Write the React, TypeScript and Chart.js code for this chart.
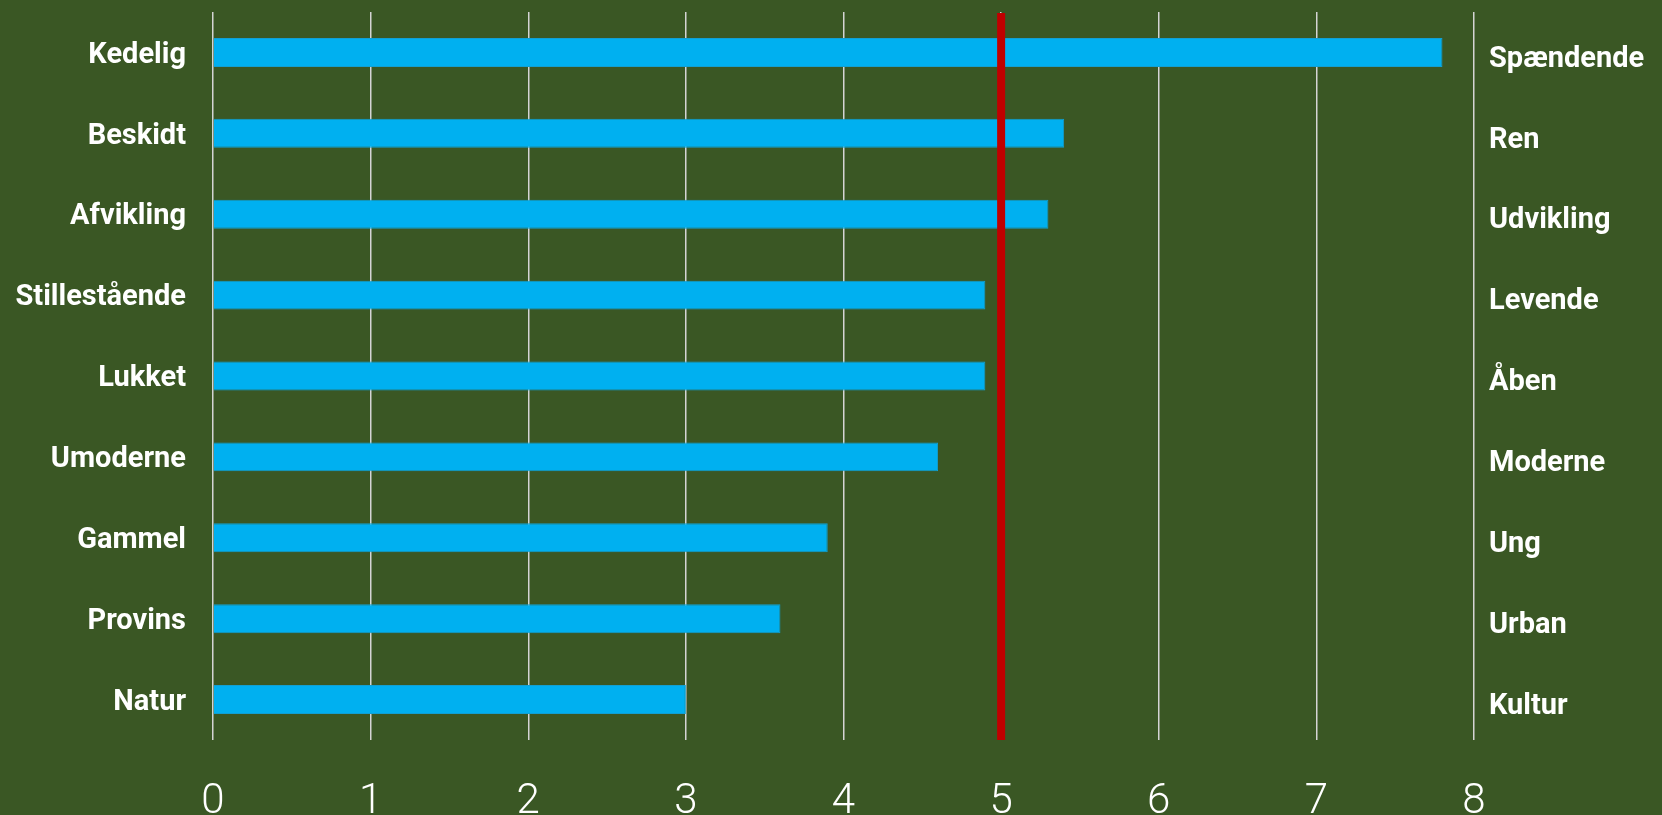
import React, { useEffect, useRef } from "react";
import { Chart, registerables } from "chart.js";

Chart.register(...registerables);

const leftLabels = ["Kedelig", "Beskidt", "Afvikling", "Stillestående", "Lukket", "Umoderne", "Gammel", "Provins", "Natur"];
const rightLabels = ["Spændende", "Ren", "Udvikling", "Levende", "Åben", "Moderne", "Ung", "Urban", "Kultur"];
const scores = [7.8, 5.4, 5.3, 4.9, 4.9, 4.6, 3.9, 3.6, 3.0];
const xTicks = [0, 1, 2, 3, 4, 5, 6, 7, 8];
const referenceValue = 5;

const BG = "#3a5724";

const refLinePlugin = {
  id: "refLine",
  afterDatasetsDraw(chart: any) {
    const { ctx, chartArea, scales } = chart;
    const x = scales.x.getPixelForValue(referenceValue);
    ctx.save();
    ctx.strokeStyle = "#c00000";
    ctx.lineWidth = 8;
    ctx.beginPath();
    ctx.moveTo(x, chartArea.top + 1);
    ctx.lineTo(x, chartArea.bottom);
    ctx.stroke();
    ctx.restore();
  },
};

export default function App() {
  const ref = useRef<HTMLCanvasElement>(null);
  useEffect(() => {
    document.body.style.margin = "0";
    document.body.style.background = BG;
    const chart = new Chart(ref.current!, {
      type: "bar",
      data: {
        labels: leftLabels,
        datasets: [
          {
            data: scores,
            backgroundColor: "#00b0f0",
            borderColor: "#129fd2",
            borderWidth: 1,
            borderSkipped: "start",
            categoryPercentage: 1,
            barPercentage: 0.358,
            yAxisID: "y",
          },
        ],
      },
      options: {
        indexAxis: "y",
        animation: false,
        responsive: false,
        maintainAspectRatio: false,
        layout: { padding: { top: 12, left: 0, right: 0, bottom: 0 } },
        plugins: { legend: { display: false }, tooltip: { enabled: false } },
        scales: {
          x: {
            type: "linear",
            min: xTicks[0],
            max: xTicks[xTicks.length - 1],
            afterBuildTicks: (s: any) => {
              s.ticks = xTicks.map((v) => ({ value: v }));
            },
            afterFit: (s: any) => {
              s.height = 75;
              s.paddingLeft = 0;
              s.paddingRight = 0;
            },
            grid: { color: "#d4d4d4", lineWidth: 1.5, drawTicks: false },
            border: { display: false },
            ticks: {
              color: "#ffffff",
              padding: 37,
              font: { family: "Roboto", weight: "300", size: 42 },
            },
          },
          y: {
            type: "category",
            position: "left",
            grid: { display: false },
            border: { display: false },
            afterFit: (s: any) => {
              s.width = 213;
              s.paddingTop = 0;
              s.paddingBottom = 0;
            },
            ticks: {
              color: "#ffffff",
              padding: 19,
              labelOffset: 3,
              font: { family: "Roboto", weight: "bold", size: 29 },
            },
          },
          y2: {
            type: "category",
            position: "right",
            labels: rightLabels,
            grid: { display: false },
            border: { display: false },
            afterFit: (s: any) => {
              s.width = 188;
              s.paddingTop = 0;
              s.paddingBottom = 0;
            },
            ticks: {
              color: "#ffffff",
              padding: 7,
              labelOffset: 7,
              font: { family: "Roboto", weight: "bold", size: 29 },
            },
          },
        },
      },
      plugins: [refLinePlugin],
    } as any);
    return () => chart.destroy();
  }, []);
  return (
    <div style={{ width: 1662, height: 815, background: BG }}>
      <canvas ref={ref} width={1662} height={815} style={{ display: "block" }} />
    </div>
  );
}
